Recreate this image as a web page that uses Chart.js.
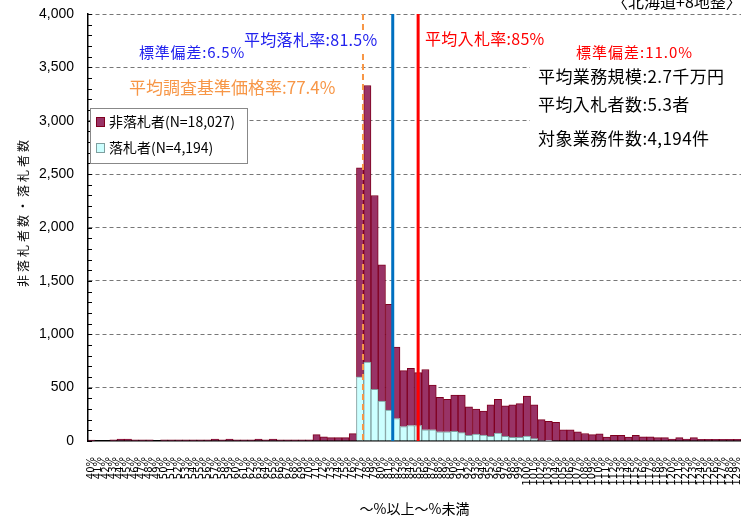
<!DOCTYPE html>
<html lang="ja">
<head>
<meta charset="utf-8">
<script src="https://cdn.jsdelivr.net/npm/chart.js@4"></script>
<style>
  html, body { margin: 0; padding: 0; background: #fff; }
  #wrap { position: relative; width: 741px; height: 520px; }
</style>
</head>
<body>
<div id="wrap"><canvas id="chart"></canvas></div>
<script>
const categories = [
  "40%", "41%", "42%", "43%", "44%", "45%", "46%", "47%", "48%", "49%",
  "50%", "51%", "52%", "53%", "54%", "55%", "56%", "57%", "58%", "59%",
  "60%", "61%", "62%", "63%", "64%", "65%", "66%", "67%", "68%", "69%",
  "70%", "71%", "72%", "73%", "74%", "75%", "76%", "77%", "78%", "79%",
  "80%", "81%", "82%", "83%", "84%", "85%", "86%", "87%", "88%", "89%",
  "90%", "91%", "92%", "93%", "94%", "95%", "96%", "97%", "98%", "99%",
  "100%", "101%", "102%", "103%", "104%", "105%", "106%", "107%", "108%", "109%",
  "110%", "111%", "112%", "113%", "114%", "115%", "116%", "117%", "118%", "119%",
  "120%", "121%", "122%", "123%", "124%", "125%", "126%", "127%", "128%", "129%"
];

// 落札者 (winners), bottom of each stack
const winners = [
  0, 0, 0, 0, 0, 0, 0, 0, 0, 0,
  0, 0, 0, 0, 0, 0, 0, 0, 0, 0,
  0, 0, 0, 0, 0, 0, 0, 0, 0, 0,
  0, 0, 0, 0, 0, 0, 0, 600, 740, 485,
  375, 290, 210, 135, 145, 145, 105, 105, 87, 87,
  90, 78, 53, 65, 56, 44, 75, 44, 34, 34,
  47, 22, 5, 3, 0, 0, 0, 0, 0, 0,
  0, 0, 0, 0, 0, 0, 0, 0, 0, 0,
  0, 0, 0, 0, 0, 0, 0, 0, 0, 0
];

// 非落札者 (non-winners), stacked on top
const nonWinners = [
  8, 0, 0, 10, 18, 18, 10, 10, 10, 0,
  10, 10, 10, 10, 10, 10, 10, 18, 10, 18,
  10, 10, 10, 18, 10, 18, 10, 10, 10, 10,
  10, 60, 40, 31, 31, 31, 69, 1960, 2590, 1815,
  1275, 990, 670, 525, 535, 495, 565, 420, 323, 303,
  340, 352, 267, 235, 224, 296, 315, 286, 306, 316,
  373, 318, 195, 182, 175, 105, 105, 85, 70, 60,
  68, 37, 53, 53, 37, 53, 40, 40, 31, 31,
  19, 31, 19, 31, 15, 15, 15, 15, 15, 15
];

const seriesLabels = ["非落札者(N=18,027)", "落札者(N=4,194)"];
const firstPct = 40;
const refRates = [77.4, 81.5, 85];          // 平均調査基準価格率, 平均落札率, 平均入札率
const yTickLabels = ["0", "500", "1,000", "1,500", "2,000", "2,500", "3,000", "3,500", "4,000"];

const FONT = '"Noto Sans CJK JP", "Noto Sans", sans-serif';
Chart.defaults.font.family = FONT;
Chart.defaults.color = "#000";

const lineStyles = [
  { color: "#f79646", width: 2, dash: [6, 4] },
  { color: "#0070c0", width: 3, dash: [] },
  { color: "#ff0000", width: 3, dash: [] }
];

const notes = [
  { text: "平均落札率:81.5%", x: 244, y: 40, size: 16, sp: 0.3, color: "#2222ee", bg: true },
  { text: "標準偏差:6.5%", x: 139, y: 52, size: 15, sp: 0.8, color: "#2222ee" },
  { text: "平均調査基準価格率:77.4%", x: 129, y: 88, size: 17, sp: 0, color: "#f79646" },
  { text: "平均入札率:85%", x: 425, y: 39, size: 16, sp: 0.3, color: "#ff0000" },
  { text: "標準偏差:11.0%", x: 576, y: 52, size: 15, sp: 1, color: "#ff0000" },
  { text: "平均業務規模:2.7千万円", x: 538, y: 77, size: 17, sp: 0.4, color: "#000" },
  { text: "平均入札者数:5.3者", x: 538, y: 105, size: 17, sp: 0.4, color: "#000" },
  { text: "対象業務件数:4,194件", x: 538, y: 139, size: 17, sp: 0.4, color: "#000" },
  { text: "〈北海道+8地整〉", x: 612, y: 2, size: 16, sp: 0, color: "#000" }
];

const overlay = {
  id: "overlay",
  afterDraw(chart) {
    const { ctx, chartArea: a, scales: { x, y } } = chart;
    const canSpace = "letterSpacing" in ctx;
    ctx.save();

    // small inner ticks every 100 on the y axis
    ctx.strokeStyle = "#000";
    ctx.lineWidth = 1;
    for (let v = 0; v <= y.max; v += 100) {
      const py = Math.round(y.getPixelForValue(v)) + 0.5;
      ctx.beginPath();
      ctx.moveTo(a.left, py);
      ctx.lineTo(a.left + 4, py);
      ctx.stroke();
    }

    // reference lines
    refRates.forEach((r, i) => {
      const st = lineStyles[i];
      const px = x.getPixelForValue(r - firstPct);
      ctx.strokeStyle = st.color;
      ctx.lineWidth = st.width;
      ctx.setLineDash(st.dash);
      ctx.beginPath();
      ctx.moveTo(px, a.top);
      ctx.lineTo(px, a.bottom);
      ctx.stroke();
    });
    ctx.setLineDash([]);

    // white panel behind summary text
    ctx.fillStyle = "#fff";
    ctx.fillRect(530, 60, 211, 92);

    ctx.textBaseline = "middle";
    ctx.textAlign = "left";
    notes.forEach(n => {
      ctx.font = n.size + "px " + FONT;
      if (canSpace) ctx.letterSpacing = n.sp + "px";
      if (n.bg) {
        const w = ctx.measureText(n.text).width;
        ctx.fillStyle = "#fff";
        ctx.fillRect(n.x - 2, n.y - n.size / 2 - 2, w + 4, n.size + 4);
      }
      ctx.fillStyle = n.color;
      ctx.fillText(n.text, n.x, n.y);
    });
    if (canSpace) ctx.letterSpacing = "0px";

    // legend box
    ctx.fillStyle = "#fff";
    ctx.fillRect(90.5, 108.5, 157, 55);
    ctx.strokeStyle = "#888";
    ctx.lineWidth = 1;
    ctx.strokeRect(90.5, 108.5, 157, 55);
    const ds = chart.data.datasets;
    [1, 0].forEach((di, row) => {
      const cy = 122 + row * 26;
      ctx.fillStyle = ds[di].backgroundColor;
      ctx.fillRect(96, cy - 5, 9, 10);
      ctx.strokeStyle = ds[di].borderColor;
      ctx.strokeRect(96.5, cy - 4.5, 8, 9);
      ctx.fillStyle = "#000";
      ctx.font = "14px " + FONT;
      ctx.fillText(ds[di].label, 109, cy);
    });

    // y axis title
    ctx.save();
    ctx.translate(23, 212);
    ctx.rotate(-Math.PI / 2);
    ctx.textAlign = "center";
    ctx.font = "12px " + FONT;
    if (canSpace) ctx.letterSpacing = "3px";
    ctx.fillStyle = "#000";
    ctx.fillText("非落札者数・落札者数", 0, 0);
    ctx.restore();

    ctx.restore();
  }
};

new Chart(document.getElementById("chart"), {
  type: "bar",
  data: {
    labels: categories,
    datasets: [
      {
        label: seriesLabels[1],
        data: winners,
        backgroundColor: "#ccffff",
        borderColor: "#7f9f9f",
        borderWidth: 1,
        barPercentage: 1,
        categoryPercentage: 1
      },
      {
        label: seriesLabels[0],
        data: nonWinners,
        backgroundColor: "#993366",
        borderColor: "#800020",
        borderWidth: 1,
        barPercentage: 1,
        categoryPercentage: 1
      }
    ]
  },
  options: {
    responsive: true,
    maintainAspectRatio: false,
    animation: false,
    layout: { padding: { top: 14, right: 0, left: 0, bottom: 0 } },
    plugins: {
      legend: { display: false },
      tooltip: { enabled: false }
    },
    scales: {
      x: {
        stacked: true,
        grid: { display: false },
        border: { display: true, color: "#000", width: 1.5 },
        ticks: {
          autoSkip: false,
          maxRotation: 90,
          minRotation: 90,
          padding: 8,
          color: "#000",
          font: { size: 10, family: '"DejaVu Sans", sans-serif' }
        },
        title: {
          display: true,
          text: "～%以上～%未満",
          color: "#000",
          font: { size: 14 },
          padding: { top: 0, bottom: 3 }
        },
        afterFit(s) { s.height = 79; s.paddingLeft = 0; s.paddingRight = 0; }
      },
      y: {
        stacked: true,
        min: 0,
        max: 4000,
        ticks: {
          stepSize: 100,
          autoSkip: false,
          padding: 14,
          color: "#000",
          font: { size: 14, family: '"Liberation Sans", sans-serif' },
          callback: v => (v % 500 === 0 ? yTickLabels[v / 500] : "")
        },
        grid: {
          drawTicks: false,
          color: c => (c.tick && c.tick.value % 500 === 0 && c.tick.value > 0 ? "#777" : "transparent")
        },
        border: { display: true, color: "#000", width: 1.5, dash: [4, 3] },
        afterFit(s) { s.width = 88; s.paddingTop = 0; s.paddingBottom = 0; }
      }
    }
  },
  plugins: [overlay]
});
</script>
</body>
</html>
